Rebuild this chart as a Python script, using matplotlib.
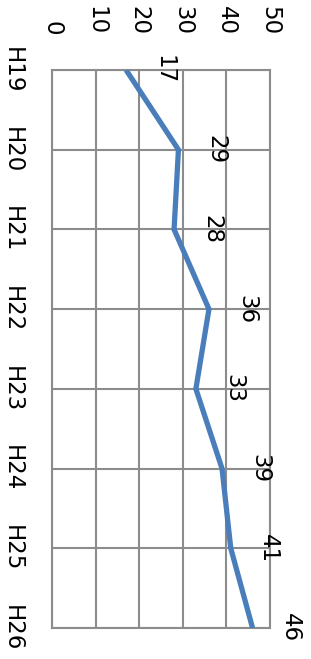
import numpy as np
from matplotlib import pyplot as plt

categories = ['H19', 'H20', 'H21', 'H22', 'H23', 'H24', 'H25', 'H26']
values = [17, 29, 28, 36, 33, 39, 41, 46]
value_ticks = [0, 10, 20, 30, 40, 50]

line_color = '#4a7ebb'
grid_color = '#8c8c8c'

fig = plt.figure(figsize=(3.11, 6.59), dpi=100)
ax = fig.add_axes([52 / 311, 31 / 659, 218 / 311, 558 / 659])

pos = np.arange(len(categories))
ax.plot(values, pos, color=line_color, linewidth=3.8, solid_capstyle='butt', zorder=3)

for v, p in zip(values, pos):
    ax.annotate(str(v), (v, p), xytext=(27, 0), textcoords='offset points',
                ha='center', va='center', rotation=-90, fontsize=16.5,
                annotation_clip=False)

ax.set_xlim(0, 50)
ax.set_ylim(len(categories) - 1, 0)
ax.set_xticks(value_ticks)
ax.set_yticks(pos)
ax.set_yticklabels(categories)
ax.xaxis.tick_top()
ax.tick_params(axis='x', length=0, pad=25, labelsize=16.5, labelrotation=-90)
ax.tick_params(axis='y', length=0, pad=20, labelsize=16.5, labelrotation=-90)
for lbl in ax.get_yticklabels():
    lbl.set_va('center')

ax.grid(True, color=grid_color, linewidth=1.5)
ax.set_axisbelow(True)
for s in ax.spines.values():
    s.set_color(grid_color)
    s.set_linewidth(1.5)

plt.savefig('out.png', dpi=100)
